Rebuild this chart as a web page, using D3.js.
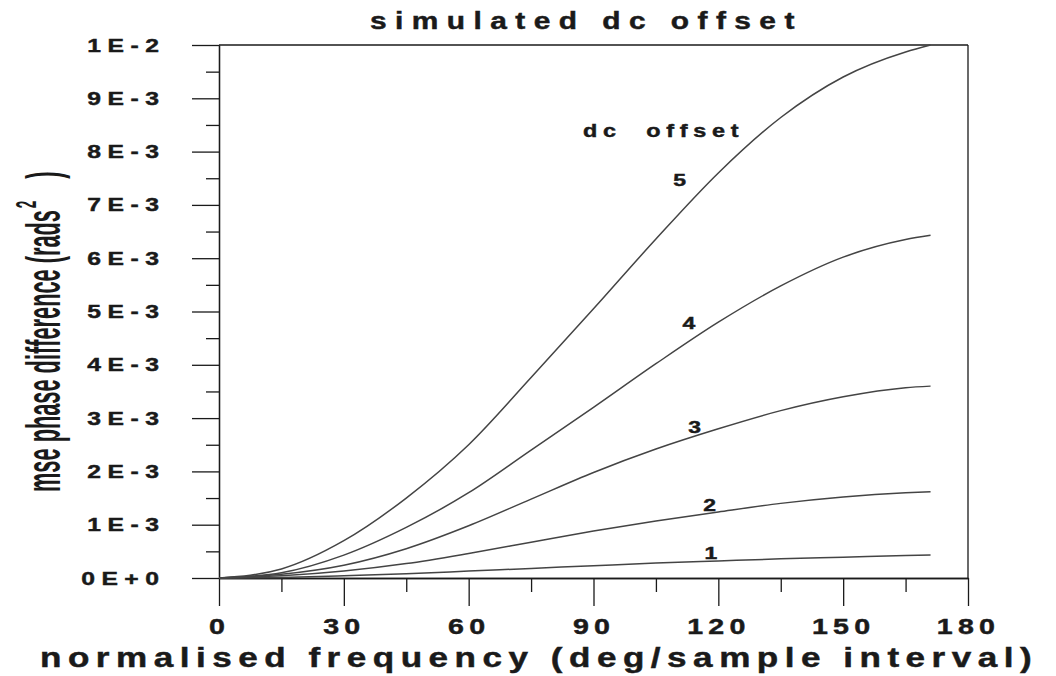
<!DOCTYPE html>
<html>
<head>
<meta charset="utf-8">
<script src="https://cdn.jsdelivr.net/npm/d3@7"></script>
<style>
  html, body { margin: 0; padding: 0; background: #fff; }
  svg { display: block; }
  text { font-family: "Liberation Sans", Arial, sans-serif; fill: #1a1a1a; }
  .heavy { stroke: #1a1a1a; stroke-width: 0.45px; }
</style>
</head>
<body>
<svg id="chart" width="1056" height="676"></svg>
<script>
// normalised frequency, deg / sample interval
const frequency = [0, 15, 30, 45, 60, 75, 90, 105, 120, 135, 150, 165, 171];

// mse phase difference for each dc offset, in units of 1E-3 rads^2
const offset1 = [0, 0.01, 0.04, 0.08, 0.13, 0.18, 0.23, 0.28, 0.32, 0.36, 0.39, 0.42, 0.43];
const offset2 = [0, 0.04, 0.13, 0.27, 0.46, 0.67, 0.88, 1.07, 1.24, 1.40, 1.52, 1.60, 1.62];
const offset3 = [0, 0.07, 0.24, 0.55, 0.98, 1.48, 1.98, 2.42, 2.80, 3.14, 3.40, 3.57, 3.60];
const offset4 = [0, 0.10, 0.43, 0.95, 1.60, 2.40, 3.20, 4.02, 4.80, 5.48, 6.02, 6.35, 6.43];
const offset5 = [0, 0.17, 0.70, 1.50, 2.50, 3.76, 5.05, 6.36, 7.60, 8.64, 9.40, 9.87, 10.0];

const seriesNames = ["1", "2", "3", "4", "5"];
const seriesValues = [offset1, offset2, offset3, offset4, offset5];

const xTicks = [0, 30, 60, 90, 120, 150, 180];
const xMinorTicks = [15, 45, 75, 105, 135, 165];
const yTicks = [0, 1e-3, 2e-3, 3e-3, 4e-3, 5e-3, 6e-3, 7e-3, 8e-3, 9e-3, 1e-2];
const yTickLabels = ["0E+0", "1E-3", "2E-3", "3E-3", "4E-3", "5E-3", "6E-3", "7E-3", "8E-3", "9E-3", "1E-2"];
const yMinorTicks = [0.5e-3, 1.5e-3, 2.5e-3, 3.5e-3, 4.5e-3, 5.5e-3, 6.5e-3, 7.5e-3, 8.5e-3, 9.5e-3];

const titleText = "simulated dc offset";
const xTitle = "normalised frequency (deg/sample interval)";
const yTitleText = "mse phase difference (rads";
const legendTitle = "dc  offset";

const svg = d3.select("#chart");
const ink = "#1a1a1a";
const curveInk = "#444";

const x = d3.scaleLinear().domain([0, 180]).range([219, 968]);
const y = d3.scaleLinear().domain([0, 0.01]).range([578, 45]);

// widen glyphs horizontally about the text's anchor and open up the letter spacing
function stretch(sel, sx, ls, extraDx = 0) {
  sel.classed("heavy", true).style("letter-spacing", ls + "px").each(function () {
    const t = d3.select(this);
    const x0 = +t.attr("x") || 0;
    const anchor = getComputedStyle(this).textAnchor;
    const trail = anchor === "end" ? ls : anchor === "middle" ? ls / 2 : 0;
    t.attr("dx", trail + extraDx)
      .attr("transform", `translate(${x0},0) scale(${sx},1) translate(${-x0},0)`);
  });
}

// plot frame: top and right edges
svg.append("line")
  .attr("x1", x(0)).attr("x2", x(180)).attr("y1", y(0.01)).attr("y2", y(0.01))
  .attr("stroke", ink).attr("stroke-width", 1.3);
svg.append("line")
  .attr("x1", x(180)).attr("x2", x(180)).attr("y1", y(0.01)).attr("y2", y(0))
  .attr("stroke", ink).attr("stroke-width", 1.3);

// y axis, major ticks with labels
const yAxis = svg.append("g").attr("transform", `translate(${x(0)},0)`)
  .call(d3.axisLeft(y).tickValues(yTicks).tickSize(27).tickSizeOuter(0).tickPadding(33)
    .tickFormat((d, i) => yTickLabels[i]));
// y axis minor ticks
svg.append("g").attr("transform", `translate(${x(0)},0)`)
  .call(d3.axisLeft(y).tickValues(yMinorTicks).tickSize(13).tickSizeOuter(0).tickFormat(""));

// x axis, major ticks with labels
const xAxis = svg.append("g").attr("transform", `translate(0,${y(0)})`)
  .call(d3.axisBottom(x).tickValues(xTicks).tickSize(28).tickSizeOuter(0).tickPadding(12)
    .tickFormat(d3.format("d")));
// x axis minor ticks
svg.append("g").attr("transform", `translate(0,${y(0)})`)
  .call(d3.axisBottom(x).tickValues(xMinorTicks).tickSize(14).tickSizeOuter(0).tickFormat(""));

svg.selectAll(".domain, .tick line").attr("stroke", ink).attr("stroke-width", 1.3);

yAxis.selectAll("text")
  .style("font-size", "19px").style("font-weight", "bold").attr("fill", ink)
  .call(stretch, 1.3, 5);
xAxis.selectAll("text")
  .style("font-size", "22px").style("font-weight", "bold").attr("fill", ink)
  .call(stretch, 1.3, 4, -2);

// curves, one per dc offset
const line = d3.line()
  .x((d, i) => x(frequency[i]))
  .y(d => y(d * 1e-3))
  .curve(d3.curveMonotoneX);

svg.append("g").selectAll("path")
  .data(seriesValues)
  .join("path")
  .attr("d", line)
  .attr("fill", "none")
  .attr("stroke", curveInk)
  .attr("stroke-width", 1.5);

// curve labels placed in data space beside each curve
const labelAt = [[118.2, 0.47], [117.9, 1.37], [114.3, 2.83], [112.9, 4.78], [110.7, 7.47]];
svg.append("g").selectAll("text")
  .data(seriesNames)
  .join("text")
  .attr("x", (d, i) => x(labelAt[i][0]))
  .attr("y", (d, i) => y(labelAt[i][1] * 1e-3) + 6)
  .attr("text-anchor", "middle")
  .style("font-size", "17px").style("font-weight", "bold")
  .text(d => d)
  .call(stretch, 1.35, 0);

svg.append("text")
  .attr("x", x(87.5)).attr("y", y(8.39e-3) + 6)
  .style("font-size", "18px").style("font-weight", "bold")
  .style("white-space", "pre")
  .text(legendTitle)
  .call(stretch, 1.3, 4.4);

// title
svg.append("text")
  .attr("x", 370).attr("y", 29)
  .style("font-size", "23px").style("font-weight", "bold")
  .text(titleText)
  .call(stretch, 1.3, 6.5);

// x axis title
svg.append("text")
  .attr("x", 40).attr("y", 667)
  .style("font-size", "27px").style("font-weight", "bold")
  .text(xTitle)
  .call(stretch, 1.3, 5);

// y axis title: one condensed, rotated text with a squared unit
const yTitle = svg.append("g");
const yTitleLabel = yTitle.append("text")
  .attr("x", 0).attr("y", 0)
  .style("font-size", "48px").style("font-weight", "bold");
yTitleLabel.append("tspan").text(yTitleText);
yTitleLabel.append("tspan")
  .attr("dx", 4).attr("dy", -24)
  .style("font-size", "30px")
  .text("2");
yTitleLabel.append("tspan")
  .attr("dx", 48).attr("dy", 24)
  .text(")");
const condense = 282 / yTitleLabel.node().getSubStringLength(0, yTitleText.length);
yTitle.attr("transform", `translate(60,492) rotate(-90) scale(${condense},1)`);
</script>
</body>
</html>
